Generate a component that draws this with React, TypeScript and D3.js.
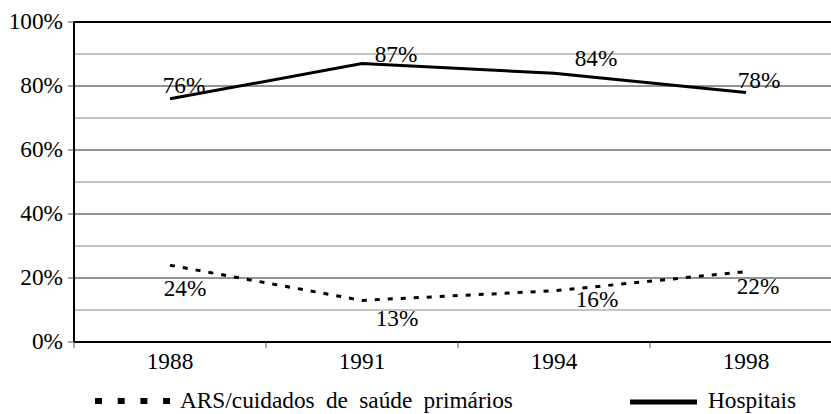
import React from "react";
import * as d3 from "d3";

// values
const years = ["1988", "1991", "1994", "1998"];
const hospitais = [76, 87, 84, 78];
const ars = [24, 13, 16, 22];
const yTicks = [0, 20, 40, 60, 80, 100];
const minorTicks = [10, 30, 50, 70, 90];

// hand-placed data labels (offset from point, px)
const hospLabelOffsets = [[14, -6], [34, -2], [42, -7], [13, -4]];
const arsLabelOffsets = [[15, 31], [35, 26], [43, 16], [12, 22]];

const W = 831;
const H = 414;
const margin = { left: 74, top: 22, bottom: 72 };
const plotRight = 842; // plot runs past the cropped edge
const FONT = '"Liberation Serif"';

const App = () => {
  const x = d3.scaleBand<string>().domain(years).range([margin.left, plotRight]).padding(0);
  const y = d3.scaleLinear().domain([0, 100]).range([H - margin.bottom, margin.top]);
  const cx = (d: string) => (x(d) as number) + x.bandwidth() / 2;

  const line = d3
    .line<number>()
    .x((_, i) => cx(years[i]))
    .y((d) => y(d));

  const y0 = y(0);
  const txt = { fontFamily: FONT, fontSize: 23.3, fill: "#000" };

  return (
    <svg width={W} height={H} style={{ position: "absolute", left: 0, top: 0, background: "#fff" }}>
      {/* minor gridlines */}
      {minorTicks.map((t) => (
        <line key={"m" + t} x1={margin.left} x2={W} y1={y(t)} y2={y(t)} stroke="#b0b0b0" strokeWidth={1.5} />
      ))}
      {/* major gridlines */}
      {yTicks.filter((t) => t > 0 && t < 100).map((t) => (
        <line key={"g" + t} x1={margin.left} x2={W} y1={y(t)} y2={y(t)} stroke="#707070" strokeWidth={1.3} />
      ))}
      {/* top border */}
      <line x1={margin.left} x2={W} y1={y(100)} y2={y(100)} stroke="#000" strokeWidth={2} />

      {/* y axis */}
      <line x1={margin.left} x2={margin.left} y1={y(100) - 1} y2={y0} stroke="#000" strokeWidth={2} />
      {yTicks.map((t) => (
        <g key={"yt" + t}>
          <line x1={margin.left - 6} x2={margin.left} y1={y(t)} y2={y(t)} stroke="#555" strokeWidth={1} />
          <text x={63} y={y(t) + 6.5} textAnchor="end" style={txt}>
            {t}%
          </text>
        </g>
      ))}

      {/* x axis */}
      <line x1={margin.left} x2={W} y1={y0} y2={y0} stroke="#000" strokeWidth={2} />
      {years.map((yr) => (
        <line key={"xt" + yr} x1={x(yr) as number} x2={x(yr) as number} y1={y0} y2={y0 + 6} stroke="#555" strokeWidth={1} />
      ))}
      {years.map((yr) => (
        <text key={"xl" + yr} x={cx(yr)} y={369} textAnchor="middle" style={txt}>
          {yr}
        </text>
      ))}

      {/* series */}
      <path d={line(hospitais) || ""} fill="none" stroke="#000" strokeWidth={3} />
      <path d={line(ars) || ""} fill="none" stroke="#000" strokeWidth={3} strokeDasharray="5,8" />

      {/* data labels */}
      {hospitais.map((v, i) => (
        <text
          key={"hl" + i}
          x={cx(years[i]) + hospLabelOffsets[i][0]}
          y={y(v) + hospLabelOffsets[i][1]}
          textAnchor="middle"
          style={txt}
        >
          {v}%
        </text>
      ))}
      {ars.map((v, i) => (
        <text
          key={"al" + i}
          x={cx(years[i]) + arsLabelOffsets[i][0]}
          y={y(v) + arsLabelOffsets[i][1]}
          textAnchor="middle"
          style={txt}
        >
          {v}%
        </text>
      ))}

      {/* legend */}
      <line x1={95} x2={170} y1={401} y2={401} stroke="#000" strokeWidth={6} strokeDasharray="7,15.7" />
      <text x={180} y={408} style={{ ...txt, wordSpacing: 5.5 }}>
        ARS/cuidados de saúde primários
      </text>
      <line x1={630} x2={697} y1={402} y2={402} stroke="#000" strokeWidth={5} />
      <text x={708} y={408} style={txt}>
        Hospitais
      </text>
    </svg>
  );
};

export default App;
